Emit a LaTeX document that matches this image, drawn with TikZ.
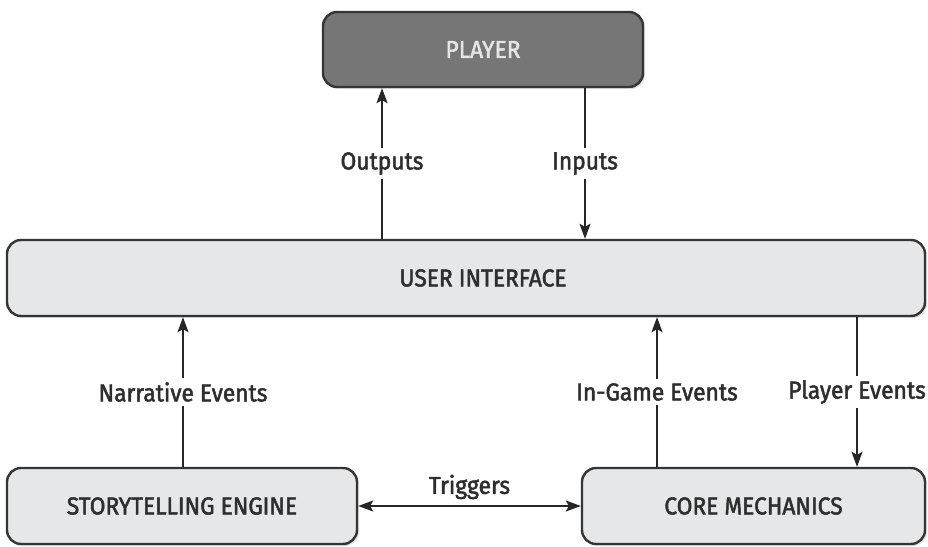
\documentclass[tikz,border=0pt]{standalone}
\usepackage{fontspec}
\setmainfont{Fira Sans}[FakeStretch=0.93, FakeBold=2]
\usetikzlibrary{arrows.meta,shadows}
\definecolor{boxfill}{HTML}{E6E7E8}
\definecolor{darkfill}{HTML}{767676}
\definecolor{edge}{HTML}{353535}
\tikzset{
  box/.style={draw=edge, line width=2.4pt, rounded corners=14pt, fill=boxfill,
    text=black!82, font=\fontsize{24.5}{28}\selectfont,
    drop shadow={opacity=0.25, shadow xshift=2pt, shadow yshift=-2pt}},
  darkbox/.style={box, fill=darkfill, text=black!10},
  tip/.tip={Stealth[length=15pt,width=11pt,inset=3pt]},
  conn/.style={draw=black!85, line width=1.8pt, -tip},
  biconn/.style={conn, tip-tip},
  lab/.style={fill=white, inner sep=4pt, text=black!82, font=\fontsize{24.5}{28}\selectfont}
}
\begin{document}
\begin{tikzpicture}[x=1pt,y=1pt]
\useasboundingbox (0,0) rectangle (928,546);
\node[darkbox, minimum width=320pt, minimum height=75pt] (player) at (483,496.5) {PLAYER};
\node[box, minimum width=918pt, minimum height=76pt] (ui) at (466,268) {};
\node[text=black!82, font=\fontsize{24.5}{28}\selectfont] (uitext) at (483,268) {USER INTERFACE};
\node[box, minimum width=350pt, minimum height=76pt] (se) at (182,40) {STORYTELLING ENGINE};
\node[box, minimum width=343pt, minimum height=76pt] (cm) at (753.5,40) {CORE MECHANICS};
\coordinate (xo) at (382,0);
\coordinate (xi) at (585,0);
\coordinate (xn) at (183,0);
\coordinate (xg) at (657,0);
\coordinate (xp) at (857,0);
\draw[conn] (ui.north -| xo) -- node[lab] {Outputs} (player.south -| xo);
\draw[conn] (player.south -| xi) -- node[lab] {Inputs} (ui.north -| xi);
\draw[conn] (se.north -| xn) -- node[lab] {Narrative Events} (ui.south -| xn);
\draw[conn] (cm.north -| xg) -- node[lab] {In-Game Events} (ui.south -| xg);
\draw[conn] (ui.south -| xp) -- node[lab] {Player Events} (cm.north -| xp);
\draw[biconn] (se.east) -- node[lab, above=2pt, fill=none] {Triggers} (cm.west);
\end{tikzpicture}
\end{document}
